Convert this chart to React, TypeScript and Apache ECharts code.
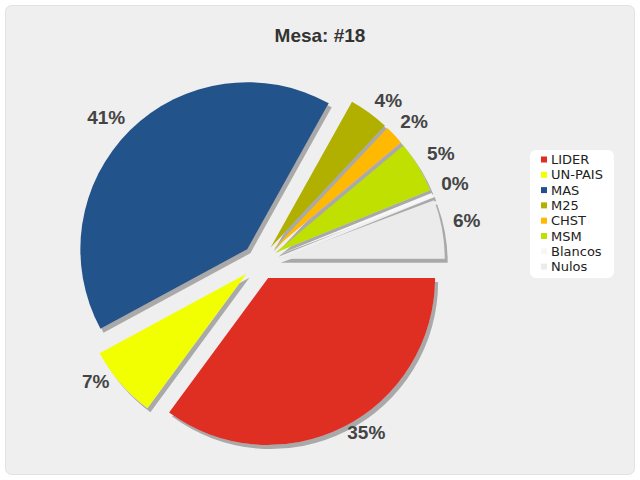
import React, { useEffect, useRef } from "react";
import * as echarts from "echarts";

const categories = ["LIDER", "UN-PAIS", "MAS", "M25", "CHST", "MSM", "Blancos", "Nulos"];
const values = [35.1, 7.0, 41.0, 3.9, 1.9, 5.0, 0.4, 5.7];
const colors = ["#df2d22", "#f2ff00", "#23528a", "#b1b000", "#ffb900", "#bfe000", "#f7f7f7", "#ebebeb"];
const titleText = "Mesa: #18";
// small label nudges [dx, dy] per slice (layout only)
const labelNudges = [[-3, 2], [-3, -5], [3, -10], [-2, -9], [-2, -11], [0, -11], [0, -10], [2, -8]];

export default function App() {
  const ref = useRef<HTMLDivElement>(null);
  useEffect(() => {
    if (!ref.current) return;
    const chart = echarts.init(ref.current, null, { renderer: "svg" });
    chart.setOption({
      animation: false,
      backgroundColor: "#ffffff",
      graphic: [
        {
          type: "rect",
          z: -10,
          shape: { x: 5.5, y: 5.5, width: 629, height: 469, r: 6 },
          style: { fill: "#efefef", stroke: "#e2e2e2", lineWidth: 1 },
        },
      ],
      title: {
        text: titleText,
        left: "center",
        top: 21,
        textStyle: { fontFamily: "Liberation Sans", fontSize: 19, fontWeight: "bold", color: "#333333" },
      },
      legend: {
        orient: "vertical",
        left: 530,
        top: 150,
        backgroundColor: "#ffffff",
        borderRadius: 6,
        padding: [3, 11, 5, 11],
        itemWidth: 6,
        itemHeight: 6,
        itemGap: 2.3,
        icon: "rect",
        selectedMode: false,
        textStyle: { fontFamily: "DejaVu Sans", fontSize: 13, lineHeight: 13, color: "#222222", padding: [0, 0, 0, -1] },
        data: categories,
      },
      series: [
        {
          type: "pie",
          center: [260, 262],
          radius: [0, 167],
          startAngle: 0,
          clockwise: true,
          selectedMode: "multiple",
          selectedOffset: 18,
          avoidLabelOverlap: false,
          emphasis: { disabled: true },
          itemStyle: {
            borderWidth: 0,
            shadowColor: "#a9a9a9",
            shadowBlur: 0.5,
            shadowOffsetX: 3,
            shadowOffsetY: 4,
          },
          label: {
            show: true,
            position: "outside",
            fontFamily: "Liberation Sans",
            fontSize: 19,
            fontWeight: "bold",
            color: "#444444",
            formatter: (p: any) => Math.round(p.percent) + "%",
          },
          labelLine: { show: false, length: 4, length2: 0 },
          labelLayout: (params: any) => ({
            dx: labelNudges[params.dataIndex][0],
            dy: labelNudges[params.dataIndex][1],
          }),
          data: categories.map((c, i) => ({
            name: c,
            value: values[i],
            selected: true,
            itemStyle: { color: colors[i] },
          })),
        },
      ],
    });
    return () => chart.dispose();
  }, []);
  return (
    <div
      ref={ref}
      style={{ position: "fixed", left: 0, top: 0, width: 640, height: 480 }}
    />
  );
}
